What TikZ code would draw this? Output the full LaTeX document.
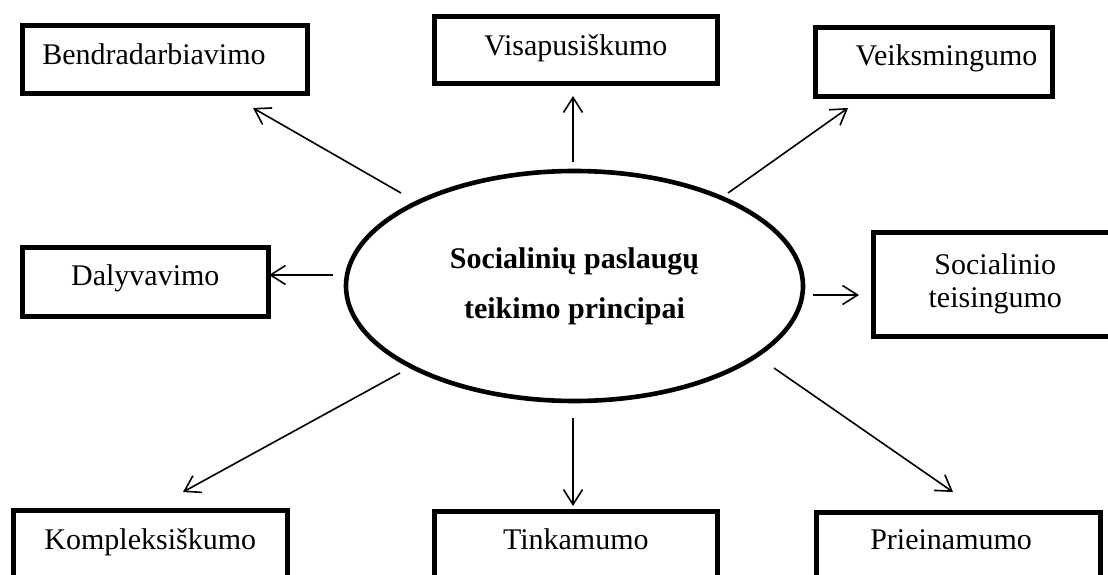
\documentclass[tikz,border=0pt]{standalone}
\usepackage{fontspec}
\setmainfont{Liberation Serif}
\usetikzlibrary{shapes.geometric,arrows.meta}
\begin{document}
\begin{tikzpicture}[x=1pt,y=-1pt,
  box/.style={draw, line width=4.6pt, rectangle, inner ysep=0pt, anchor=north west,
    font=\fontsize{30}{34}\selectfont},
  arr/.style={line width=1.6pt, -{Straight Barb[length=15pt,width=19pt,line width=1.6pt]}}]
\useasboundingbox (0,0) rectangle (1108,575);
\clip (0,0) rectangle (1108,575);
\fill[white] (0,0) rectangle (1108,575);

% boxes
\node[box, inner xsep=20pt, text width=245pt, align=left, text height=39pt, text depth=29pt] (B) at (20,23) {Bendradarbiavimo};
\node[box, inner xsep=0pt, minimum width=283pt, text height=39pt, text depth=28pt] (V) at (432,14) {Visapusiškumo};
\node[box, inner xsep=15pt, text width=207pt, align=right, text height=38pt, text depth=31pt] (K) at (813,25) {Veiksmingumo};
\node[box, inner xsep=0pt, minimum width=246pt, text height=38pt, text depth=31pt] (D) at (20,245) {Dalyvavimo};
\node[box, inner xsep=0pt, minimum width=244pt, minimum height=104pt, align=center] (S) at (871,230) {Socialinio\\[-1pt]teisingumo};
\node[box, inner xsep=0pt, minimum width=274pt, text height=39pt, text depth=80pt] (Ko) at (11,508) {Kompleksiškumo};
\node[box, inner xsep=0pt, minimum width=283pt, text height=38pt, text depth=80pt] (T) at (432,509) {Tinkamumo};
\node[box, inner xsep=54pt, text width=176pt, align=left, text height=37pt, text depth=80pt] (P) at (814,510) {Prieinamumo};

% central ellipse
\node[draw, ellipse, line width=4.6pt, minimum width=457pt, minimum height=230pt, inner sep=0pt,
  align=center, font=\bfseries\fontsize{30}{50}\selectfont] (E) at (574.5,286) {Socialinių paslaugų\\teikimo principai};

% arrow ends
\coordinate (sB) at (401,193);  \coordinate (tB) at (253,108);
\coordinate (sV) at (573,162);  \coordinate (tV) at (573,96);
\coordinate (sK) at (728,193);  \coordinate (tK) at (848,108);
\coordinate (sD) at (333,275);  \coordinate (tD) at (269,275);
\coordinate (sS) at (813,295);  \coordinate (tS) at (859,295);
\coordinate (sKo) at (400,373); \coordinate (tKo) at (183,492);
\coordinate (sT) at (573,418);  \coordinate (tT) at (573,506);
\coordinate (sP) at (774,368);  \coordinate (tP) at (953,492);

\draw[arr] (sB) -- (tB);
\draw[arr] (sV) -- (tV);
\draw[arr] (sK) -- (tK);
\draw[arr] (sD) -- (tD);
\draw[arr] (sS) -- (tS);
\draw[arr] (sKo) -- (tKo);
\draw[arr] (sT) -- (tT);
\draw[arr] (sP) -- (tP);
\end{tikzpicture}
\end{document}
